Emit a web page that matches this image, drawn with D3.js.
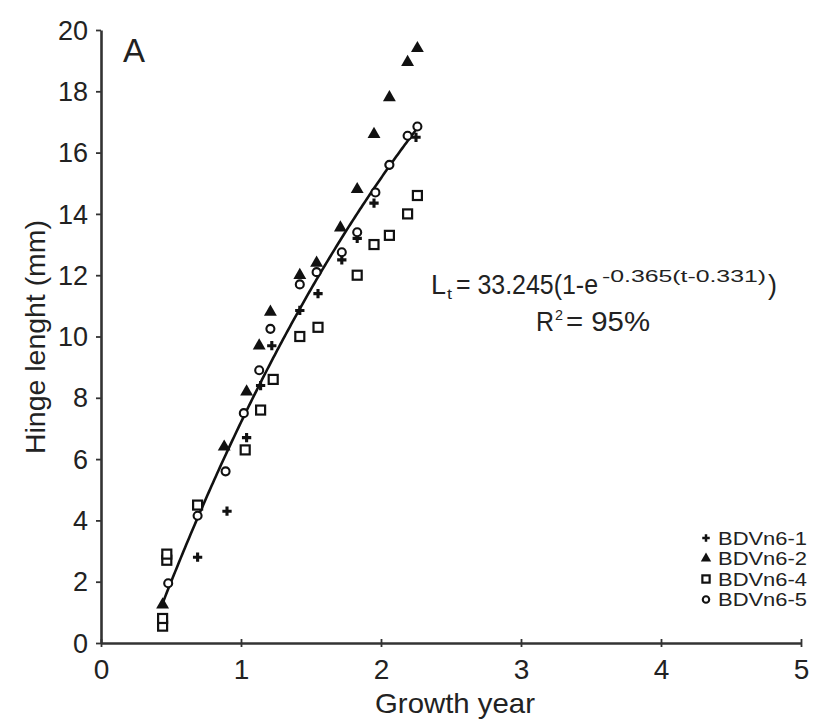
<!DOCTYPE html>
<html>
<head>
<meta charset="utf-8">
<script src="https://cdn.jsdelivr.net/npm/d3@7"></script>
<style>
  html, body { margin: 0; padding: 0; background: #fff; }
  svg { display: block; font-family: "Liberation Sans", Arial, sans-serif; }
</style>
</head>
<body>
<svg id="chart" width="818" height="721"></svg>
<script>
// Hinge length (mm) against growth year for four specimens
const seriesNames = ["BDVn6-1", "BDVn6-2", "BDVn6-4", "BDVn6-5"];
const seriesSymbols = ["plus", "triangle", "square", "circle"];

const yearsBDVn6_1 = [0.69, 0.90, 1.04, 1.14, 1.22, 1.42, 1.55, 1.72, 1.83, 1.95, 2.06, 2.25];
const hingeBDVn6_1 = [2.8, 4.3, 6.7, 8.4, 9.7, 10.85, 11.4, 12.5, 13.2, 14.35, 15.6, 16.5];

const yearsBDVn6_2 = [0.44, 0.88, 1.04, 1.13, 1.21, 1.42, 1.54, 1.71, 1.83, 1.95, 2.06, 2.19, 2.26];
const hingeBDVn6_2 = [1.25, 6.4, 8.2, 9.7, 10.8, 12.0, 12.4, 13.55, 14.8, 16.6, 17.8, 18.95, 19.4];

const yearsBDVn6_4 = [0.44, 0.44, 0.47, 0.47, 0.69, 1.03, 1.14, 1.23, 1.42, 1.55, 1.83, 1.95, 2.06, 2.19, 2.26];
const hingeBDVn6_4 = [0.55, 0.8, 2.7, 2.9, 4.5, 6.3, 7.6, 8.6, 10.0, 10.3, 12.0, 13.0, 13.3, 14.0, 14.6];

const yearsBDVn6_5 = [0.48, 0.69, 0.89, 1.02, 1.13, 1.21, 1.42, 1.54, 1.72, 1.83, 1.96, 2.06, 2.19, 2.26];
const hingeBDVn6_5 = [1.95, 4.15, 5.6, 7.5, 8.9, 10.25, 11.7, 12.1, 12.75, 13.4, 14.7, 15.6, 16.55, 16.85];

// von Bertalanffy fit: Lt = Linf (1 - e^(-k (t - t0)))
const fitLinf = 33.245, fitK = 0.365, fitT0 = 0.331;
const fitRange = [0.43, 2.25];

const xTicks = [0, 1, 2, 3, 4, 5];
const yTicks = [0, 2, 4, 6, 8, 10, 12, 14, 16, 18, 20];

const years = [yearsBDVn6_1, yearsBDVn6_2, yearsBDVn6_4, yearsBDVn6_5];
const hinges = [hingeBDVn6_1, hingeBDVn6_2, hingeBDVn6_4, hingeBDVn6_5];

const svg = d3.select("#chart");
const x = d3.scaleLinear().domain([0, 5]).range([101, 801]);
const y = d3.scaleLinear().domain([0, 20]).range([643, 30]);
const axisColor = "#333";
const textColor = "#222";

// axes
const yAxis = svg.append("g").attr("transform", `translate(${x(0)},0)`)
  .call(d3.axisLeft(y).tickValues(yTicks).tickFormat(d3.format("d"))
    .tickSize(5).tickPadding(8).tickSizeOuter(0));
const xAxis = svg.append("g").attr("transform", `translate(0,${y(0)})`)
  .call(d3.axisBottom(x).tickValues(xTicks).tickFormat(d3.format("d"))
    .tickSize(4).tickPadding(12).tickSizeOuter(0));
[yAxis, xAxis].forEach(g => {
  g.select(".domain").attr("stroke", axisColor).attr("stroke-width", 2.6);
  g.selectAll(".tick line").attr("stroke", axisColor).attr("stroke-width", 1.8);
  g.selectAll(".tick text").attr("fill", textColor).attr("font-size", 27)
    .attr("font-family", "Liberation Sans, Arial, sans-serif");
});
yAxis.selectAll(".tick text").attr("dy", "0.34em");
// x ticks cross the axis slightly
xAxis.selectAll(".tick line").attr("y1", -4).attr("y2", 4);
xAxis.selectAll(".tick text").attr("font-size", 28);

// axis titles
svg.append("text").attr("x", 455).attr("y", 713).attr("text-anchor", "middle")
  .attr("font-size", 28).attr("fill", textColor)
  .attr("textLength", 160).attr("lengthAdjust", "spacingAndGlyphs").text("Growth year");
svg.append("text").attr("transform", `translate(45,337) rotate(-90)`)
  .attr("text-anchor", "middle").attr("font-size", 28).attr("fill", textColor)
  .attr("textLength", 234).attr("lengthAdjust", "spacingAndGlyphs")
  .text("Hinge lenght (mm)");

// panel letter
svg.append("text").attr("x", 123).attr("y", 62).attr("font-size", 33).attr("fill", textColor).text("A");

// fitted curve
const fitPts = d3.range(fitRange[0], fitRange[1] + 1e-9, 0.01)
  .map(t => [t, fitLinf * (1 - Math.exp(-fitK * (t - fitT0)))]);
svg.append("path").datum(fitPts)
  .attr("fill", "none").attr("stroke", "#111").attr("stroke-width", 2.6)
  .attr("d", d3.line().x(d => x(d[0])).y(d => y(d[1])));

// marker drawing
function drawMarker(g, sym, cx, cy, scale = 1) {
  if (sym === "plus") {
    g.append("path").attr("d", d3.symbol().type(d3.symbolCross).size(48 * scale)())
      .attr("transform", `translate(${cx},${cy})`).attr("fill", "#111");
  } else if (sym === "triangle") {
    g.append("path").attr("d", d3.symbol().type(d3.symbolTriangle).size(72 * scale)())
      .attr("transform", `translate(${cx},${cy})`).attr("fill", "#111");
  } else if (sym === "square") {
    const s = 9 * Math.sqrt(scale);
    g.append("rect").attr("x", cx - s / 2).attr("y", cy - s / 2).attr("width", s).attr("height", s)
      .attr("fill", "#fff").attr("stroke", "#111").attr("stroke-width", 2.2);
  } else {
    g.append("circle").attr("cx", cx).attr("cy", cy).attr("r", 4 * Math.sqrt(scale))
      .attr("fill", "#fff").attr("stroke", "#111").attr("stroke-width", 2.1);
  }
}

const pts = svg.append("g");
seriesNames.forEach((name, i) => {
  years[i].forEach((t, j) => drawMarker(pts, seriesSymbols[i], x(t), y(hinges[i][j])));
});

// equation, each piece fitted to its width
function piece(txt, px, py, size, len) {
  return svg.append("text").attr("x", px).attr("y", py).attr("font-size", size)
    .attr("fill", textColor).attr("textLength", len)
    .attr("lengthAdjust", "spacingAndGlyphs").text(txt);
}
piece("L", 431, 294, 27, 15);
piece("t", 447, 299, 15, 5);
piece("= 33.245(1-e", 456, 294, 27, 142);
piece("-0.365(t-0.331)", 602, 282, 16, 164);
piece(")", 768, 294, 27, 9);
piece("R", 536, 331, 27, 18);
piece("2", 555, 320, 15, 8);
piece("= 95%", 566, 331, 27, 84);

// legend
const legend = svg.append("g");
seriesNames.forEach((name, i) => {
  const ly = 538 + i * 20.5;
  drawMarker(legend, seriesSymbols[i], 706, ly, 0.65);
  legend.append("text").attr("x", 718).attr("y", ly + 6.5).attr("font-size", 18)
    .attr("fill", textColor).attr("textLength", 89).attr("lengthAdjust", "spacingAndGlyphs")
    .text(name);
});
</script>
</body>
</html>
